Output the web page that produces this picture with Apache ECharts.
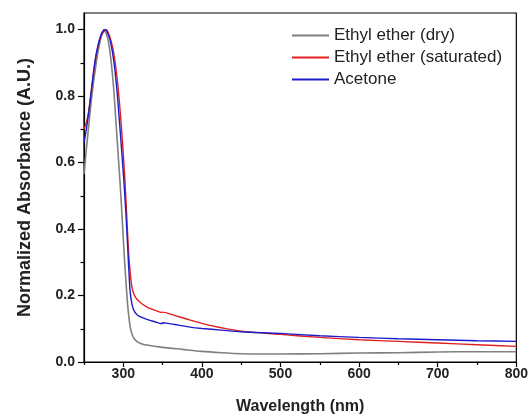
<!DOCTYPE html>
<html>
<head>
<meta charset="utf-8">
<script src="https://cdn.jsdelivr.net/npm/echarts@6/dist/echarts.min.js"></script>
<style>html,body{margin:0;padding:0;background:#fff;}#c{width:531px;height:420px;}</style>
</head>
<body>
<div id="c"></div>
<script>
const seriesNames = ['Ethyl ether (dry)', 'Ethyl ether (saturated)', 'Acetone'];

const dryWl  = [250,253,256,259,262,265,268,271,274,276,278,280,282,284,286,288,290,292,294,296,298,300,302,304,306,308,310,313,317,322,330,350,375,400,425,450,475,500,550,600,650,700,750,800];
const dryAbs = [0.565,0.64,0.71,0.78,0.84,0.89,0.935,0.97,0.995,1.0,0.99,0.975,0.95,0.915,0.87,0.815,0.745,0.675,0.605,0.535,0.455,0.37,0.29,0.22,0.16,0.118,0.092,0.073,0.062,0.056,0.051,0.044,0.038,0.032,0.028,0.025,0.024,0.024,0.025,0.027,0.028,0.030,0.031,0.031];

const satWl  = [250,253,256,259,262,265,268,271,274,278.6,281,284,287,290,293,296,299,302,305,307,309.6,311,313,316,320,325,332,340,349,350,360,385,410,450,500,550,600,650,700,750,800];
const satAbs = [0.70,0.72,0.755,0.81,0.865,0.915,0.95,0.975,0.99,1.0,0.99,0.97,0.94,0.895,0.835,0.755,0.66,0.55,0.41,0.32,0.25,0.225,0.207,0.193,0.183,0.173,0.163,0.156,0.149,0.150,0.144,0.126,0.110,0.093,0.083,0.074,0.067,0.062,0.057,0.052,0.047];

const aceWl  = [250,253,256,259,262,265,268,271,274,277.4,280,283,286,289,292,294.4,297,299,301,303,304.5,306,307.5,309,311,313,316,320,330,340,349,350,355,370,385,400,425,450,500,550,600,650,700,750,800];
const aceAbs = [0.66,0.70,0.75,0.81,0.87,0.92,0.955,0.98,0.995,1.0,0.99,0.97,0.935,0.885,0.815,0.745,0.665,0.60,0.535,0.46,0.395,0.325,0.255,0.205,0.175,0.158,0.146,0.138,0.128,0.121,0.115,0.118,0.117,0.111,0.105,0.101,0.096,0.091,0.086,0.079,0.074,0.070,0.067,0.064,0.062];

const xMajor = [300,400,500,600,700,800];
const xMinor = [250,350,450,550,650,750];
const yMajor = [0,0.2,0.4,0.6,0.8,1.0];
const yMinor = [0.1,0.3,0.5,0.7,0.9];

const colors = ['#808080', '#e0201e', '#1c1ccc'];

function pairs(xs, ys){ return xs.map((x,i)=>[x, ys[i]]); }

const chart = echarts.init(document.getElementById('c'));
const FONT = 'Liberation Sans, Arial, sans-serif';
chart.setOption({
  animation: false,
  backgroundColor: '#fff',
  grid: { left: 84, right: 13, top: 13, bottom: 57, show: true, borderColor: '#000', borderWidth: 1.2 },
  legend: {
    orient: 'vertical', left: 292, top: 27, padding: 0, itemWidth: 37, itemHeight: 2, itemGap: 5,
    icon: 'rect',
    textStyle: { fontFamily: FONT, fontSize: 17, color: '#222' },
    data: seriesNames
  },
  xAxis: [{
    type: 'value', min: 250, max: 800,
    name: 'Wavelength (nm)', nameLocation: 'middle', nameGap: 37,
    nameTextStyle: { fontFamily: FONT, fontSize: 16, fontWeight: 'bold', color: '#222' },
    axisLine: { show: true, lineStyle: { color: '#000', width: 1.2 } },
    axisTick: { show: true, inside: false, length: 5, customValues: xMajor, lineStyle: { color: '#000', width: 1.2 } },
    axisLabel: { customValues: xMajor, margin: 5, fontFamily: FONT, fontSize: 14, fontWeight: 'bold', color: '#222' },
    splitLine: { show: false }
  }, {
    type: 'value', min: 250, max: 800, position: 'bottom',
    axisLine: { show: false },
    axisTick: { show: true, length: 3, customValues: xMinor, lineStyle: { color: '#000', width: 1.2 } },
    axisLabel: { show: false },
    splitLine: { show: false }
  }],
  yAxis: [{
    type: 'value', min: 0, max: 1.05,
    name: 'Normalized Absorbance (A.U.)', nameLocation: 'middle', nameGap: 50,
    nameTextStyle: { fontFamily: FONT, fontSize: 18, fontWeight: 'bold', color: '#222' },
    axisLine: { show: true, lineStyle: { color: '#000', width: 1.2 } },
    axisTick: { show: true, length: 6, customValues: yMajor, lineStyle: { color: '#000', width: 1.2 } },
    axisLabel: { customValues: yMajor, margin: 9, fontFamily: FONT, fontSize: 14, fontWeight: 'bold', color: '#222',
      formatter: v => v.toFixed(1) },
    splitLine: { show: false }
  }, {
    type: 'value', min: 0, max: 1.05, position: 'left',
    axisLine: { show: false },
    axisTick: { show: true, length: 3.5, customValues: yMinor, lineStyle: { color: '#000', width: 1.2 } },
    axisLabel: { show: false },
    splitLine: { show: false }
  }],
  series: [
    { name: seriesNames[0], type: 'line', data: pairs(dryWl, dryAbs), showSymbol: false, smooth: 0.25, color: colors[0], lineStyle: { width: 1.6, color: colors[0] } },
    { name: seriesNames[1], type: 'line', data: pairs(satWl, satAbs), showSymbol: false, smooth: 0.25, color: colors[1], lineStyle: { width: 1.4, color: colors[1] } },
    { name: seriesNames[2], type: 'line', data: pairs(aceWl, aceAbs), showSymbol: false, smooth: 0.25, color: colors[2], lineStyle: { width: 1.4, color: colors[2] } }
  ]
});
</script>
</body>
</html>
